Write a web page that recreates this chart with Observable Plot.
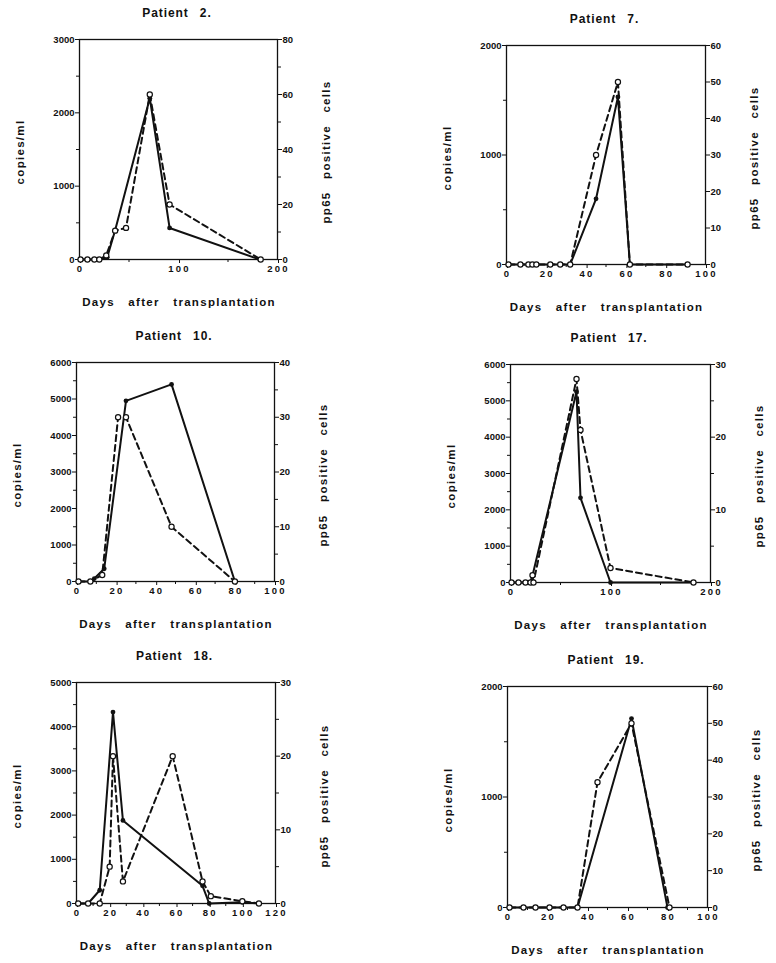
<!DOCTYPE html>
<html><head><meta charset="utf-8">
<script src="https://cdn.jsdelivr.net/npm/d3@7"></script>
<script src="https://cdn.jsdelivr.net/npm/@observablehq/plot@0.6"></script>
<style>
body{margin:0;background:#fff;}
#page{position:relative;width:776px;height:963px;overflow:hidden;font-family:"Liberation Sans",Arial,sans-serif;font-weight:bold;color:#111;background:#fff;}
.lbl{position:absolute;white-space:nowrap;font-weight:bold;color:#111;}
.title{font-size:12px;letter-spacing:0.9px;word-spacing:7px;transform:translate(-50%,-50%);}
.xlab{font-size:11.5px;letter-spacing:1.3px;word-spacing:9px;transform:translate(-50%,-50%);}
.ylab{font-size:11.5px;letter-spacing:1.3px;word-spacing:8px;transform:translate(-50%,-50%) rotate(-90deg);}
.panel{position:absolute;}
svg g[aria-label="x-axis tick label"] text{letter-spacing:2.2px;}
</style>
</head><body><div id="page"></div>
<script>
// ---- Data ----
const titles = ["Patient 2.", "Patient 7.", "Patient 10.", "Patient 17.", "Patient 18.", "Patient 19."];
const xLabel = "Days after transplantation";
const yLabelLeft = "copies/ml";
const yLabelRight = "pp65 positive cells";

// Patient 2
const p2CopiesDays = [1, 8, 15, 20, 28, 36, 71, 91, 182];
const p2Copies     = [0, 0, 0, 0, 30, 400, 2200, 430, 0];
const p2PpDays     = [1, 8, 15, 20, 27, 36, 47, 71, 91, 183];
const p2Pp         = [0, 0, 0, 0, 1.5, 10.5, 11.5, 60, 20, 0];
// Patient 7
const p7CopiesDays = [1, 7, 11, 13, 15, 22, 27, 32, 45, 56, 62, 91];
const p7Copies     = [0, 0, 0, 0, 0, 0, 0, 0, 600, 1530, 0, 0];
const p7PpDays     = [1, 7, 11, 13, 15, 22, 27, 32, 45, 56, 62, 91];
const p7Pp         = [0, 0, 0, 0, 0, 0, 0, 0, 30, 50, 0, 0];
// Patient 10
const p10CopiesDays = [1, 7, 9, 14, 25, 48, 80];
const p10Copies     = [0, 0, 80, 350, 4950, 5400, 0];
const p10PpDays     = [1, 7, 13, 21, 25, 48, 80];
const p10Pp         = [0, 0, 1.2, 30, 30, 10, 0];
// Patient 17
const p17CopiesDays = [1, 8, 15, 20, 22, 66, 70, 100, 183];
const p17Copies     = [0, 0, 0, 0, 190, 5250, 2330, 0, 0];
const p17PpDays     = [1, 8, 15, 20, 22, 23, 66, 70, 100, 183];
const p17Pp         = [0, 0, 0, 0, 1, 0, 28, 21, 2, 0];
// Patient 18
const p18CopiesDays = [1, 7, 14, 22, 28, 76, 80, 100, 110];
const p18Copies     = [0, 0, 300, 4330, 1880, 400, 0, 30, 0];
const p18PpDays     = [1, 7, 14, 20, 22, 28, 58, 76, 81, 100, 110];
const p18Pp         = [0, 0, 0, 5, 20, 3, 20, 3, 1, 0.3, 0];
// Patient 19
const p19CopiesDays = [1, 8, 14, 21, 28, 35, 62, 80];
const p19Copies     = [0, 0, 0, 0, 0, 0, 1710, 0];
const p19PpDays     = [1, 8, 14, 21, 28, 35, 45, 62, 81];
const p19Pp         = [0, 0, 0, 0, 0, 0, 34, 50, 0];

// Axis tick values
const xTicks200 = [0, 100, 200];
const xMinor200 = [50, 150];
const xTicks100 = [0, 20, 40, 60, 80, 100];
const xMinor100 = [10, 30, 50, 70, 90];
const xTicks120 = [0, 20, 40, 60, 80, 100, 120];
const xMinor120 = [10, 30, 50, 70, 90, 110];
const yTicks2000 = [0, 1000, 2000];
const yMinor2000 = [500, 1500];
const yTicks3000 = [0, 1000, 2000, 3000];
const yMinor3000 = [500, 1500, 2500];
const yTicks5000 = [0, 1000, 2000, 3000, 4000, 5000];
const yMinor5000 = [500, 1500, 2500, 3500, 4500];
const yTicks6000 = [0, 1000, 2000, 3000, 4000, 5000, 6000];
const yMinor6000 = [500, 1500, 2500, 3500, 4500, 5500];
const ppTicks80 = [0, 20, 40, 60, 80];
const ppMinor80 = [10, 30, 50, 70];
const ppTicks60 = [0, 10, 20, 30, 40, 50, 60];
const ppTicks40 = [0, 10, 20, 30, 40];
const ppMinor40 = [5, 15, 25, 35];
const ppTicks30 = [0, 10, 20, 30];
const ppMinor30 = [5, 15, 25];

// ---- Layout (frame position of each panel in the page) ----
const panels = [
  {title: titles[0], frame: {left: 79, top: 39, w: 198, h: 220}, xMax: 200, yMax: 3000, ppMax: 80,
   xTicks: xTicks200, xMinor: xMinor200, yTicks: yTicks3000, yMinor: yMinor3000, ppTicks: ppTicks80, ppMinor: ppMinor80,
   cd: p2CopiesDays, cv: p2Copies, pd: p2PpDays, pv: p2Pp},
  {title: titles[1], frame: {left: 506, top: 45, w: 199, h: 219}, xMax: 100, yMax: 2000, ppMax: 60,
   xTicks: xTicks100, xMinor: xMinor100, yTicks: yTicks2000, yMinor: yMinor2000, ppTicks: ppTicks60, ppMinor: [],
   cd: p7CopiesDays, cv: p7Copies, pd: p7PpDays, pv: p7Pp},
  {title: titles[2], frame: {left: 76, top: 362, w: 198, h: 219}, xMax: 100, yMax: 6000, ppMax: 40,
   xTicks: xTicks100, xMinor: xMinor100, yTicks: yTicks6000, yMinor: yMinor6000, ppTicks: ppTicks40, ppMinor: ppMinor40,
   cd: p10CopiesDays, cv: p10Copies, pd: p10PpDays, pv: p10Pp},
  {title: titles[3], frame: {left: 510, top: 364, w: 200, h: 218}, xMax: 200, yMax: 6000, ppMax: 30,
   xTicks: xTicks200, xMinor: xMinor200, yTicks: yTicks6000, yMinor: yMinor6000, ppTicks: ppTicks30, ppMinor: ppMinor30,
   cd: p17CopiesDays, cv: p17Copies, pd: p17PpDays, pv: p17Pp},
  {title: titles[4], frame: {left: 76, top: 682, w: 199, h: 221}, xMax: 120, yMax: 5000, ppMax: 30,
   xTicks: xTicks120, xMinor: xMinor120, yTicks: yTicks5000, yMinor: yMinor5000, ppTicks: ppTicks30, ppMinor: ppMinor30,
   cd: p18CopiesDays, cv: p18Copies, pd: p18PpDays, pv: p18Pp},
  {title: titles[5], frame: {left: 507, top: 686, w: 200, h: 221}, xMax: 100, yMax: 2000, ppMax: 60,
   xTicks: xTicks100, xMinor: xMinor100, yTicks: yTicks2000, yMinor: yMinor2000, ppTicks: ppTicks60, ppMinor: [],
   cd: p19CopiesDays, cv: p19Copies, pd: p19PpDays, pv: p19Pp}
];

const page = document.getElementById("page");
const INK = "#111";
const blank = () => "";

function addLabel(cls, text, x, y) {
  const d = document.createElement("div");
  d.className = "lbl " + cls;
  d.textContent = text;
  d.style.left = x + "px";
  d.style.top = y + "px";
  page.appendChild(d);
}

for (const p of panels) {
  const f = p.frame;
  const k = p.yMax / p.ppMax;
  const copies = p.cd.map((d, i) => ({day: d, v: p.cv[i]}));
  const pp = p.pd.map((d, i) => ({day: d, v: p.pv[i] * k}));
  const mL = 50, mR = 50, mT = 8, mB = 26;
  const marks = [
    Plot.frame({stroke: INK, strokeWidth: 1.3}),
    Plot.axisX(p.xTicks, {tickSize: 4, tickPadding: 2, dx: 1, label: null, tickFormat: d => String(d)}),
    Plot.axisY(p.yTicks, {tickSize: 4, tickPadding: 1, label: null, tickFormat: d => String(d)}),
    Plot.axisY(p.ppTicks.map(t => t * k), {anchor: "right", tickSize: 4, tickPadding: 1, label: null, tickFormat: d => String(Math.round(d / k))})
  ];
  if (p.xMinor.length) marks.push(Plot.axisX(p.xMinor, {tickSize: 3, label: null, tickFormat: blank}));
  if (p.yMinor.length) marks.push(Plot.axisY(p.yMinor, {tickSize: 3, label: null, tickFormat: blank}));
  if (p.ppMinor.length) marks.push(Plot.axisY(p.ppMinor.map(t => t * k), {anchor: "right", tickSize: 3, label: null, tickFormat: blank}));
  marks.push(
    Plot.line(copies, {x: "day", y: "v", stroke: INK, strokeWidth: 2}),
    Plot.line(pp, {x: "day", y: "v", stroke: INK, strokeWidth: 2, strokeDasharray: "6,4"}),
    Plot.dot(copies, {x: "day", y: "v", r: 2.4, fill: INK}),
    Plot.dot(pp, {x: "day", y: "v", r: 2.6, fill: "white", stroke: INK, strokeWidth: 1.2})
  );
  const svg = Plot.plot({
    width: f.w + mL + mR,
    height: f.h + mT + mB,
    marginLeft: mL, marginRight: mR, marginTop: mT, marginBottom: mB,
    x: {domain: [0, p.xMax]},
    y: {domain: [0, p.yMax]},
    style: {fontFamily: "'Liberation Sans', Arial, sans-serif", fontSize: "9.5px", fontWeight: "bold", color: INK, background: "transparent", overflow: "visible"},
    marks
  });
  svg.classList.add("panel");
  svg.style.left = (f.left - mL) + "px";
  svg.style.top = (f.top - mT) + "px";
  page.appendChild(svg);

  const cx = f.left + f.w / 2;
  const cy = f.top + f.h / 2 + 3;
  addLabel("title", p.title, cx - 1, f.top - 26);
  addLabel("xlab", xLabel, cx + 1, f.top + f.h + 43);
  addLabel("ylab", yLabelLeft, f.left - 59, cy);
  addLabel("ylab", yLabelRight, f.left + f.w + 49, cy);
}
</script></body></html>
